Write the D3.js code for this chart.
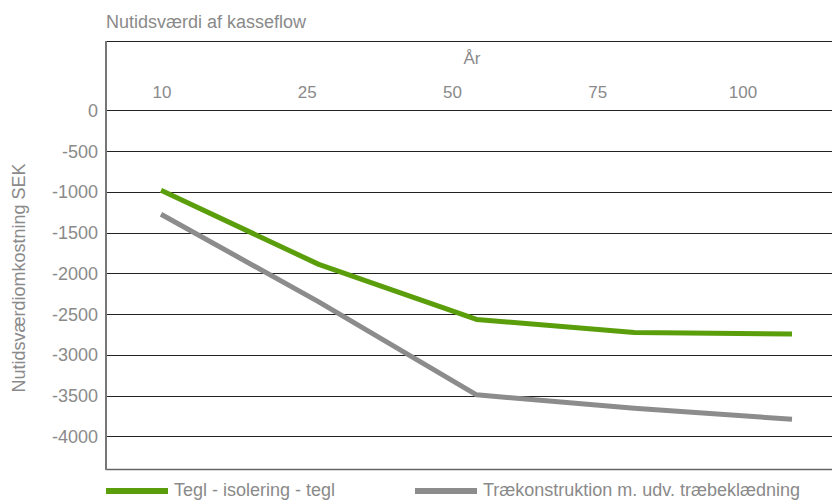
<!DOCTYPE html>
<html>
<head>
<meta charset="utf-8">
<style>
  body { margin: 0; background: #fff; }
  text { font-family: "Liberation Sans", Arial, sans-serif; fill: #8a8a8a; }
</style>
</head>
<body>
<div id="chart"></div>
<script src="https://cdn.jsdelivr.net/npm/d3@7/dist/d3.min.js"></script>
<script>
    // data
    const years = ["10", "25", "50", "75", "100"];
    const teglValues = [-980, -1890, -2565, -2725, -2745];
    const traeValues = [-1275, -2350, -3490, -3655, -3790];
    const yTicks = [0, -500, -1000, -1500, -2000, -2500, -3000, -3500, -4000];
    const seriesNames = ["Tegl - isolering - tegl", "Trækonstruktion m. udv. træbeklædning"];
    const seriesColors = ["#5b9e0c", "#8c8c8c"];

    const width = 832, height = 501;
    const plotLeft = 106, plotRight = 832, plotTop = 41, plotBottom = 469;

    const svg = d3.select("#chart").append("svg")
        .attr("width", width)
        .attr("height", height);

    // scales
    const y = d3.scaleLinear().domain([850, -4400]).range([plotTop, plotBottom]);
    const xPoints = d3.scalePoint().domain(years).range([161, 792]);
    const xLabels = d3.scalePoint().domain(years).range([162, 743]);

    // gridlines
    svg.append("g")
        .selectAll("line")
        .data(yTicks)
        .enter().append("line")
        .attr("x1", plotLeft).attr("x2", plotRight)
        .attr("y1", d => Math.round(y(d)) + 0.5)
        .attr("y2", d => Math.round(y(d)) + 0.5)
        .attr("stroke", "#222")
        .attr("stroke-width", 1);

    // frame: top and bottom lines, left axis
    svg.append("line")
        .attr("x1", plotLeft).attr("x2", plotRight)
        .attr("y1", plotTop + 0.5).attr("y2", plotTop + 0.5)
        .attr("stroke", "#222");
    svg.append("line")
        .attr("x1", plotLeft).attr("x2", plotRight)
        .attr("y1", plotBottom + 0.5).attr("y2", plotBottom + 0.5)
        .attr("stroke", "#666").attr("stroke-width", 1.5);
    svg.append("line")
        .attr("x1", plotLeft).attr("x2", plotLeft)
        .attr("y1", plotTop).attr("y2", plotBottom + 1)
        .attr("stroke", "#777").attr("stroke-width", 2);

    // y tick labels
    svg.append("g")
        .selectAll("text")
        .data(yTicks)
        .enter().append("text")
        .attr("x", 98)
        .attr("y", d => y(d))
        .attr("dy", "0.36em")
        .attr("text-anchor", "end")
        .attr("font-size", "18px")
        .text(d => d);

    // x tick labels (top)
    svg.append("g")
        .selectAll("text")
        .data(years)
        .enter().append("text")
        .attr("x", d => xLabels(d))
        .attr("y", 98)
        .attr("text-anchor", "middle")
        .attr("font-size", "17px")
        .text(d => d);

    svg.append("text")
        .attr("x", 472).attr("y", 64)
        .attr("text-anchor", "middle")
        .attr("font-size", "17px")
        .text("År");

    // titles
    svg.append("text")
        .attr("x", 106).attr("y", 28)
        .attr("font-size", "18px")
        .text("Nutidsværdi af kasseflow");

    svg.append("text")
        .attr("transform", "translate(25,278) rotate(-90)")
        .attr("text-anchor", "middle")
        .attr("font-size", "18px")
        .text("Nutidsværdiomkostning SEK");

    // lines
    const line = d3.line()
        .x((d, i) => xPoints(years[i]))
        .y(d => y(d));

    [teglValues, traeValues].forEach((vals, k) => {
        svg.append("path")
            .datum(vals)
            .attr("fill", "none")
            .attr("stroke", seriesColors[k])
            .attr("stroke-width", 5)
            .attr("stroke-linejoin", "round")
            .attr("d", line);
    });

    // legend
    const legendX = [106, 415];
    const legendW = [161, 317];
    seriesNames.forEach((name, k) => {
        svg.append("line")
            .attr("x1", legendX[k]).attr("x2", legendX[k] + 62)
            .attr("y1", 491).attr("y2", 491)
            .attr("stroke", seriesColors[k])
            .attr("stroke-width", 6);
        svg.append("text")
            .attr("x", legendX[k] + 68)
            .attr("y", 496)
            .attr("font-size", "18px")
            .attr("textLength", legendW[k])
            .attr("lengthAdjust", "spacingAndGlyphs")
            .style("font-family", "'Liberation Sans Narrow', 'Liberation Sans', sans-serif")
            .text(name);
    });
</script>
</body>
</html>
